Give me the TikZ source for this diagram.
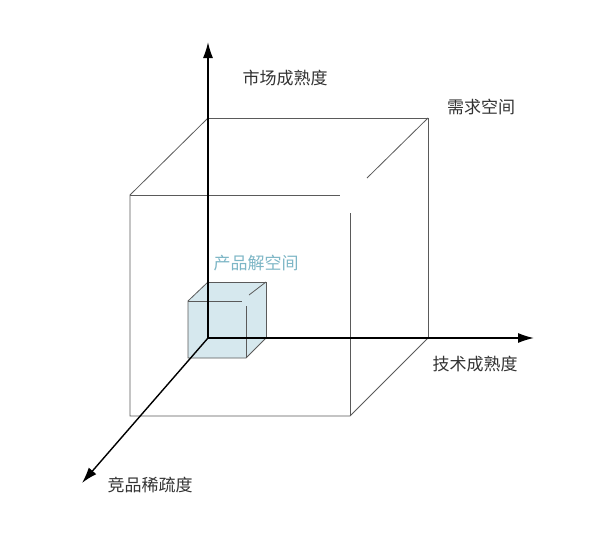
\documentclass[tikz,border=0pt]{standalone}
\usepackage{fontspec}
\setmainfont{Noto Sans CJK SC}
\usetikzlibrary{arrows.meta}
\definecolor{edgegray}{HTML}{5A5A5A}
\definecolor{solfill}{HTML}{D6E8EE}
\definecolor{soltext}{HTML}{7DB6C6}
\tikzset{
  axis/.style={line width=1.4pt,-{Latex[length=16pt,width=10pt]}},
  edge/.style={edgegray,line width=0.8pt},
  lbl/.style={font=\fontsize{17}{18}\selectfont,text=black!80,inner sep=0pt}
}
\begin{document}
\begin{tikzpicture}[x=1pt,y=-1pt]
        \useasboundingbox[fill=white] (0,0) rectangle (600,536);
        %% Origin and axis ends
        \coordinate (O) at (208,338);
        \coordinate (up) at (208,42);
        \coordinate (right) at (534,338);
        \coordinate (front) at (82,483);
        %% Small cube (product space)
        \coordinate (s1) at (208,282);
        \coordinate (s2) at (266,282);
        \coordinate (s3) at (266,338);
        \coordinate (s4) at (188,301);
        \coordinate (s5) at (246,301);
        \coordinate (s6) at (246,358);
        \coordinate (s7) at (188,358);
        \fill[solfill] (s1) -- (s2) -- (s3) -- (s6) -- (s7) -- (s4) -- cycle;
        \draw[edge] (s1) -- (s2) -- (s3);
        \draw[edge] (s1) -- (s4) -- (s7) -- (s6) -- (s3);
        \draw[edge] (s4) -- (242,301);
        \draw[edge] (246,306) -- (s6);
        \draw[edge] (s2) -- (249,295);
        %% Big cube (demand space)
        \coordinate (b1) at (208,118);
        \coordinate (b2) at (428,118);
        \coordinate (b3) at (428,338);
        \coordinate (b4) at (130,195);
        \coordinate (b5) at (350,195);
        \coordinate (b6) at (350,416);
        \coordinate (b7) at (130,416);
        \draw[edge] (b1) -- (b2) -- (b3);
        \draw[edge] (b1) -- (b4) -- (b7) -- (b6) -- (b3);
        \draw[edge] (b4) -- (340,195);
        \draw[edge] (350,213) -- (b6);
        \draw[edge] (b2) -- (367,178);
        %% Axis
        \draw[axis] (O) -- (up);
        \draw[axis] (O) -- (right);
        \draw[axis] (O) -- (front);
        %% Lables
        \node[lbl] (market) at (285,78) {市场成熟度};
        \node[lbl] (demand) at (481,107) {需求空间};
        \node[lbl] (tech) at (475,364) {技术成熟度};
        \node[lbl] (rival) at (150,485) {竞品稀疏度};
        \node[lbl,text=soltext] (solution) at (256,263) {产品解空间};
    \end{tikzpicture}
\end{document}
